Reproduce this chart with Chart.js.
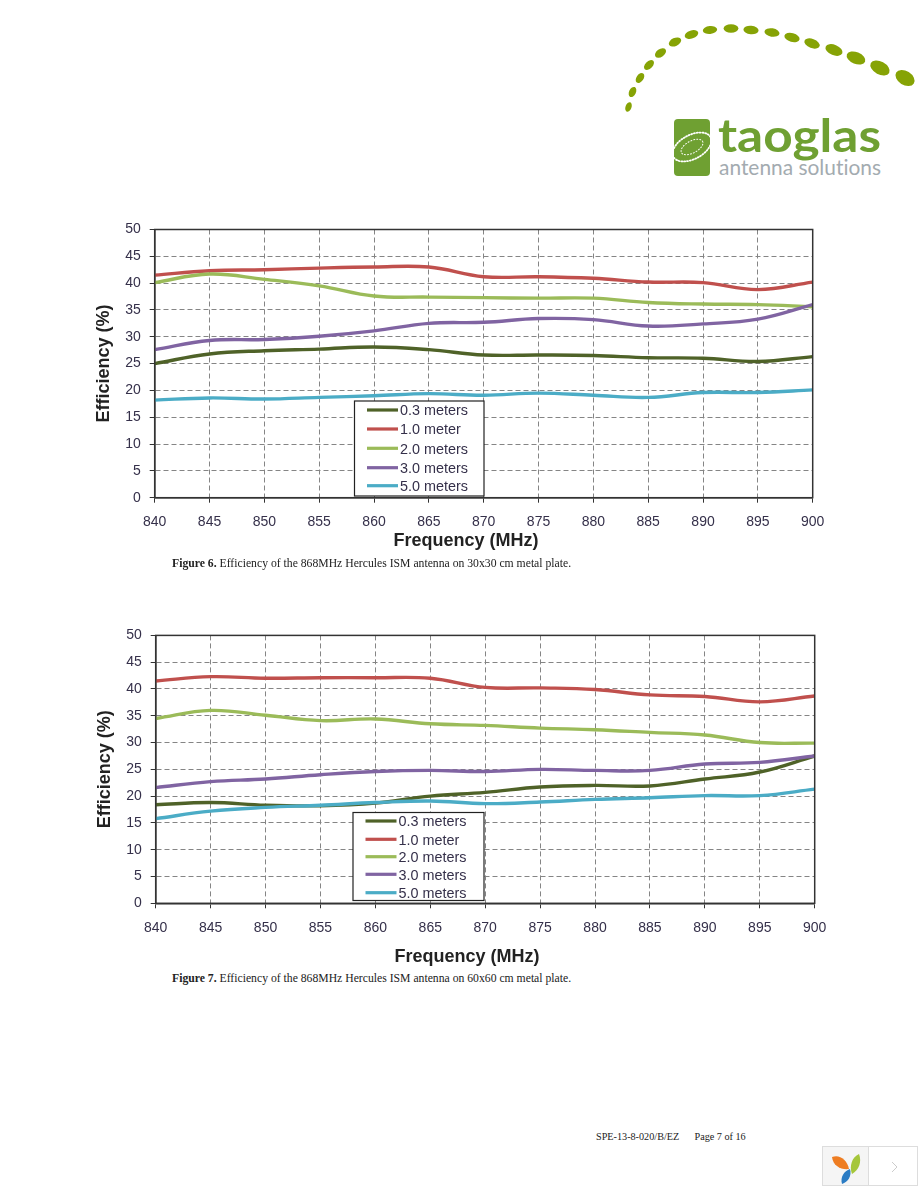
<!DOCTYPE html>
<html>
<head>
<meta charset="utf-8">
<title>Efficiency of the 868MHz Hercules ISM antenna</title>
<script src="https://cdn.jsdelivr.net/npm/chart.js@4"></script>
<style>
  html, body { margin: 0; padding: 0; background: #fff; }
  #page { position: relative; width: 918px; height: 1188px; overflow: hidden; }
  canvas { position: absolute; }
  #chart6 { left: 90px; top: 212px; }
  #chart7 { left: 91px; top: 618px; }
  .caption, .footer { position: absolute; font-family: "Liberation Serif", serif; font-size: 11.7px; color: #222; white-space: pre; }
  #caption6 { left: 172px; top: 557px; }
  #caption7 { left: 172px; top: 972px; }
  .footer { left: 596px; top: 1131px; font-size: 10.2px; }
  #logo, #widget { position: absolute; left: 0; top: 0; }
</style>
</head>
<body>
<div id="page">
  <svg id="logo" width="918" height="190">
    <g id="dots" fill="#86a305"></g>
    <rect x="674" y="119" width="36" height="57" rx="4" fill="#6fa032"/>
    <g fill="none" stroke="#fff" stroke-linecap="round" transform="rotate(-28 692 147)">
      <ellipse cx="692" cy="147" rx="21" ry="12" stroke-width="1.8" stroke-dasharray="1 1.8"/>
      <ellipse cx="692" cy="147" rx="12" ry="6" stroke-width="1" stroke-dasharray="1 2"/>
    </g>
    <text x="718" y="152" font-family="Lato" font-weight="700" font-size="45" fill="#6fa032" textLength="163" lengthAdjust="spacingAndGlyphs">taoglas</text>
    <text x="719" y="175" font-family="Lato" font-size="20.5" fill="#a3abb0" textLength="162" lengthAdjust="spacingAndGlyphs" style="font-variant-ligatures:none">antenna solutions</text>
  </svg>
  <canvas id="chart6" width="752" height="348"></canvas>
  <div class="caption" id="caption6"><b>Figure 6.</b> Efficiency of the 868MHz Hercules ISM antenna on 30x30 cm metal plate.</div>
  <canvas id="chart7" width="752" height="352"></canvas>
  <div class="caption" id="caption7"><b>Figure 7.</b> Efficiency of the 868MHz Hercules ISM antenna on 60x60 cm metal plate.</div>
  <div class="footer">SPE-13-8-020/B/EZ      Page 7 of 16</div>
  <svg id="widget" width="918" height="1188" style="pointer-events:none">
    <rect x="822.5" y="1146.5" width="46" height="39" fill="#f5f5f5" stroke="#ddd"/>
    <rect x="868.5" y="1146.5" width="49" height="39" fill="#fff" stroke="#ddd"/>
    <path d="M832 1157c7-3 15 2 17 12-8 1-16-3-17-12z" fill="#ee7d22"/>
    <path d="M859 1154c3 8 0 16-7 20-3-8 0-17 7-20z" fill="#a5c63b"/>
    <path d="M842 1184c-2-7 2-13 8-15 2 7-2 13-8 15z" fill="#2b7cc4"/>
    <path d="M892 1162l5 5-5 5" fill="none" stroke="#ccc"/>
  </svg>
</div>
<script>
const frequencies = [840, 845, 850, 855, 860, 865, 870, 875, 880, 885, 890, 895, 900]
const seriesNames = ['0.3 meters', '1.0 meter', '2.0 meters', '3.0 meters', '5.0 meters']
const seriesColors = ['#4f6228', '#c0504d', '#9bbb59', '#8064a2', '#4bacc6']
const yTicks = [0, 5, 10, 15, 20, 25, 30, 35, 40, 45, 50]

// Figure 6, 30x30 cm plate
const plate30_03m = [25.0, 26.8, 27.4, 27.7, 28.1, 27.6, 26.6, 26.6, 26.5, 26.1, 26.0, 25.4, 26.3]
const plate30_10m = [41.5, 42.3, 42.5, 42.8, 43.0, 43.0, 41.2, 41.2, 40.9, 40.2, 40.1, 38.8, 40.2]
const plate30_20m = [40.1, 41.7, 40.7, 39.5, 37.6, 37.4, 37.3, 37.2, 37.2, 36.4, 36.1, 36.0, 35.6]
const plate30_30m = [27.6, 29.3, 29.5, 30.1, 31.1, 32.5, 32.7, 33.4, 33.2, 32.0, 32.4, 33.3, 36.0]
const plate30_50m = [18.2, 18.6, 18.4, 18.7, 19.0, 19.4, 19.1, 19.5, 19.1, 18.7, 19.6, 19.6, 20.1]

// Figure 7, 60x60 cm plate
const plate60_03m = [18.4, 18.8, 18.3, 18.2, 18.7, 20.0, 20.7, 21.7, 22.0, 21.9, 23.2, 24.5, 27.5]
const plate60_10m = [41.5, 42.3, 42.0, 42.1, 42.1, 42.0, 40.3, 40.2, 39.9, 38.9, 38.6, 37.6, 38.7]
const plate60_20m = [34.5, 36.0, 35.1, 34.1, 34.4, 33.5, 33.2, 32.7, 32.4, 31.9, 31.4, 30.0, 29.9]
const plate60_30m = [21.6, 22.7, 23.2, 24.0, 24.6, 24.8, 24.6, 25.0, 24.8, 24.8, 26.0, 26.3, 27.5]
const plate60_50m = [15.8, 17.2, 17.9, 18.3, 18.8, 19.1, 18.6, 18.9, 19.4, 19.7, 20.1, 20.1, 21.3]

const tickColor = '#35304a'
const gridColor = '#858585'
const frameColor = '#333333'

// logo arc, not chart data
const logoDots = [
  [628.5, 107, 3, 5, 20], [632.5, 92, 3.4, 5.4, 25], [640, 78, 3.5, 5.6, 35], [649, 65, 3.7, 6, 45],
  [660.5, 53, 3.9, 6.2, 55], [675, 42, 4, 6.6, 65], [691.5, 34.5, 4, 7, 72], [710, 30, 4, 7.2, 85],
  [731, 28.5, 4.2, 7.4, 90], [751, 30, 4.2, 7.6, 95], [772, 32.5, 4.2, 7.6, 100], [792, 37.5, 4.4, 7.8, 105],
  [812, 43.5, 4.6, 8, 110], [834, 50, 5.2, 9, 112], [856, 58, 5.8, 9.8, 112], [880, 68, 6.4, 10.4, 118], [905, 78, 7, 10.4, 122]
]
const dotsGroup = document.getElementById('dots')
logoDots.forEach(([cx, cy, rx, ry, rot]) => {
  const dot = document.createElementNS('http://www.w3.org/2000/svg', 'ellipse')
  dot.setAttribute('cx', cx)
  dot.setAttribute('cy', cy)
  dot.setAttribute('rx', rx)
  dot.setAttribute('ry', ry)
  dot.setAttribute('transform', `rotate(${rot} ${cx} ${cy})`)
  dotsGroup.appendChild(dot)
})

// frame round the plot, the boxed legend inside it, and the off-centre x title
const plotFrame = {
  id: 'plotFrame',
  afterDatasetsDraw (chart, args, opts) {
    const { ctx, chartArea } = chart
    ctx.save()
    ctx.strokeStyle = frameColor
    ctx.lineWidth = 1.5
    ctx.strokeRect(chartArea.left, chartArea.top, chartArea.width, chartArea.height)

    const box = opts.box
    ctx.fillStyle = '#fff'
    ctx.fillRect(box.left, box.top, box.width, box.height)
    ctx.lineWidth = 1.2
    ctx.strokeStyle = '#222'
    ctx.strokeRect(box.left, box.top, box.width, box.height)

    ctx.font = '14.4px "Liberation Sans"'
    ctx.textBaseline = 'middle'
    chart.data.datasets.forEach((ds, i) => {
      const y = opts.rows[i]
      ctx.strokeStyle = ds.borderColor
      ctx.lineWidth = 3.2
      ctx.beginPath()
      ctx.moveTo(box.left + 12.5, y)
      ctx.lineTo(box.left + 43.5, y)
      ctx.stroke()
      ctx.fillStyle = tickColor
      ctx.fillText(ds.label, box.left + 45.5, y + 1.5)
    })

    ctx.font = 'bold 18px "Liberation Sans"'
    ctx.fillStyle = '#222'
    ctx.textAlign = 'center'
    ctx.fillText('Frequency (MHz)', opts.titleX, opts.titleY)
    ctx.restore()
  }
}

const makeChart = (id, seriesList, layout) => new Chart(document.getElementById(id), {
  type: 'line',
  data: {
    labels: frequencies,
    datasets: seriesList.map((values, i) => ({
      label: seriesNames[i],
      data: values.map((v, j) => ({ x: frequencies[j], y: v })),
      borderColor: seriesColors[i],
      borderWidth: 3.4,
      pointRadius: 0,
      tension: 0.4,
      order: seriesList.length - i // later series paint on top
    }))
  },
  plugins: [plotFrame],
  options: {
    responsive: false,
    animation: false,
    events: [],
    layout: { autoPadding: false, padding: { top: layout.top, right: layout.right, left: 0, bottom: 0 } },
    plugins: {
      legend: { display: false },
      tooltip: { enabled: false },
      plotFrame: { box: layout.box, rows: layout.rows, titleX: layout.titleX, titleY: layout.titleY }
    },
    scales: {
      x: {
        type: 'linear',
        min: 840,
        max: 900,
        afterFit: (scale) => { scale.height = layout.xHeight },
        afterBuildTicks: (scale) => { scale.ticks = frequencies.map(v => ({ value: v })) },
        border: { color: frameColor, width: 1.5, dash: [5, 3] },
        grid: { color: gridColor, lineWidth: 1, tickLength: 5, tickColor: frameColor, drawTicks: true },
        ticks: {
          color: tickColor,
          maxRotation: 0,
          autoSkip: false,
          padding: layout.xTickPad,
          font: { family: 'Liberation Sans', size: 14 }
        }
      },
      y: {
        min: 0,
        max: 50,
        afterFit: (scale) => { scale.width = layout.yWidth },
        afterBuildTicks: (scale) => { scale.ticks = yTicks.map(v => ({ value: v })) },
        border: { color: frameColor, width: 1.5, dash: [5, 3] },
        grid: { color: gridColor, lineWidth: 1, tickLength: 5, tickColor: frameColor },
        title: {
          display: true,
          text: 'Efficiency (%)',
          color: '#222',
          font: { family: 'Liberation Sans', size: 18, weight: 'bold', lineHeight: 1.2 },
          padding: { top: 3, bottom: 0 }
        },
        ticks: {
          color: tickColor,
          padding: 9,
          font: { family: 'Liberation Sans', size: 14 }
        }
      }
    }
  }
})

makeChart('chart6', [plate30_03m, plate30_10m, plate30_20m, plate30_30m, plate30_50m], {
  top: 17.5,
  right: 29.3,
  yWidth: 64.7,
  xHeight: 62.3,
  xTickPad: 11.5,
  titleX: 376,
  titleY: 329,
  box: { left: 264.5, top: 189, width: 129.5, height: 95 },
  rows: [198, 217, 236.3, 255.7, 273.7]
})

makeChart('chart7', [plate60_03m, plate60_10m, plate60_20m, plate60_30m, plate60_50m], {
  top: 17,
  right: 28.3,
  yWidth: 64.7,
  xHeight: 66.7,
  xTickPad: 11,
  titleX: 376,
  titleY: 339,
  box: { left: 262, top: 194.5, width: 131, height: 88 },
  rows: [203, 221.3, 238.7, 256.3, 274.7]
})
</script>
</body>
</html>
